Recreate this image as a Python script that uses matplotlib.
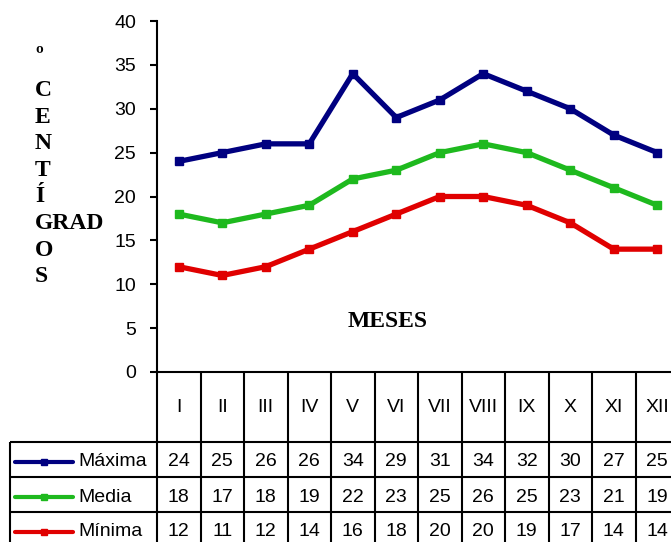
#!/usr/bin/python

import numpy as np
from matplotlib.figure import Figure

import matplotlib as mpl
mpl.rc('font', family='Liberation Sans', size=14)

# data
meses = ["I", "II", "III", "IV", "V", "VI", "VII", "VIII", "IX", "X", "XI", "XII"]
maxima = [24, 25, 26, 26, 34, 29, 31, 34, 32, 30, 27, 25]
media = [18, 17, 18, 19, 22, 23, 25, 26, 25, 23, 21, 19]
minima = [12, 11, 12, 14, 16, 18, 20, 20, 19, 17, 14, 14]
series = ["Máxima", "Media", "Mínima"]
colores = ["#000080", "#1EB91E", "#E00000"]

# layout in pixels (figure is 671 x 542)
W, H = 671, 542
X0, X1 = 157, 679		# plot area, months -0.5 .. 11.5
Y_TOP, Y_AXIS = 21, 372	# y = 40 .. y = 0
TAB_LEFT = 9.5
HEAD_H, ROW_H = 70, 35

def fx(px):
	return px / W

def fy(py):
	return 1 - py / H

#########################
def temp_plot():#
#########################
	fig = Figure(figsize=(W / 100, H / 100), dpi=100)
	n = len(meses)
	x = np.arange(n)

	# the lines
	ax = fig.add_axes([fx(X0), fy(Y_AXIS), (X1 - X0) / W, (Y_AXIS - Y_TOP) / H])
	for vals, c in zip([maxima, media, minima], colores):
		ax.plot(x, vals, color=c, lw=3.8, marker="s", ms=5.5)

	ax.set_xlim(-0.5, n - 0.5)
	ax.set_ylim(0, 40)
	ax.set_yticks(range(0, 41, 5))
	ax.set_xticks([])
	for side in ["top", "right"]:
		ax.spines[side].set_visible(False)
	for side in ["left", "bottom"]:
		ax.spines[side].set_linewidth(1.5)
	ax.tick_params(axis="y", length=5, width=1.5, pad=10, labelsize=14)

	# data table below the plot
	tab_h = HEAD_H + 3 * ROW_H
	tab = fig.add_axes([fx(TAB_LEFT), fy(Y_AXIS + tab_h), (X1 - TAB_LEFT) / W, tab_h / H])
	unit = (X1 - X0) / n
	xl = -0.5 - (X0 - TAB_LEFT) / unit
	tab.set_xlim(xl, n - 0.5)
	tab.set_ylim(tab_h, 0)
	tab.axis("off")

	lines = {"color": "black", "lw": 1.5, "clip_on": False}
	tab.vlines(x - 0.5, 0, tab_h, **lines)
	tab.vlines(n - 0.5, 0, tab_h, **lines)
	tab.vlines(xl, HEAD_H, tab_h, **lines)
	tab.hlines([HEAD_H + ROW_H * i for i in range(4)], xl, n - 0.5, **lines)

	for j, m in enumerate(meses):
		tab.text(j, HEAD_H / 2, m, ha="center", va="center")

	def to_x(px):
		return xl + (px - TAB_LEFT) / unit

	for i, (name, vals, c) in enumerate(zip(series, [maxima, media, minima], colores)):
		yc = HEAD_H + ROW_H * i + ROW_H / 2 + 2.5
		for j, v in enumerate(vals):
			tab.text(j, yc, str(v), ha="center", va="center")
		# legend key
		tab.plot([to_x(15), to_x(73)], [yc, yc], color=c, lw=3, solid_capstyle="round", clip_on=False)
		tab.plot(to_x(44), yc, color=c, marker="s", ms=5, clip_on=False)
		tab.text(to_x(78), yc, name, ha="left", va="center")

	# axis titles, stacked letters like the original
	bold = {"family": "Liberation Serif", "weight": "bold", "size": 17}
	fig.text(fx(35), fy(62), "º", ha="left", va="baseline", **bold)
	labels = ["C", "E", "N", "T", "Í", "GRAD", "O", "S"]
	for k, s in enumerate(labels):
		fig.text(fx(35), fy(96 + 26.6 * k), s, ha="left", va="baseline", **bold)
	fig.text(fx(387.5), fy(327), "MESES", ha="center", va="baseline", **bold)

	return fig
	############################################################################

##########################
if __name__ == "__main__":

	fig = temp_plot()
	fig.savefig("out.png", dpi=100)
